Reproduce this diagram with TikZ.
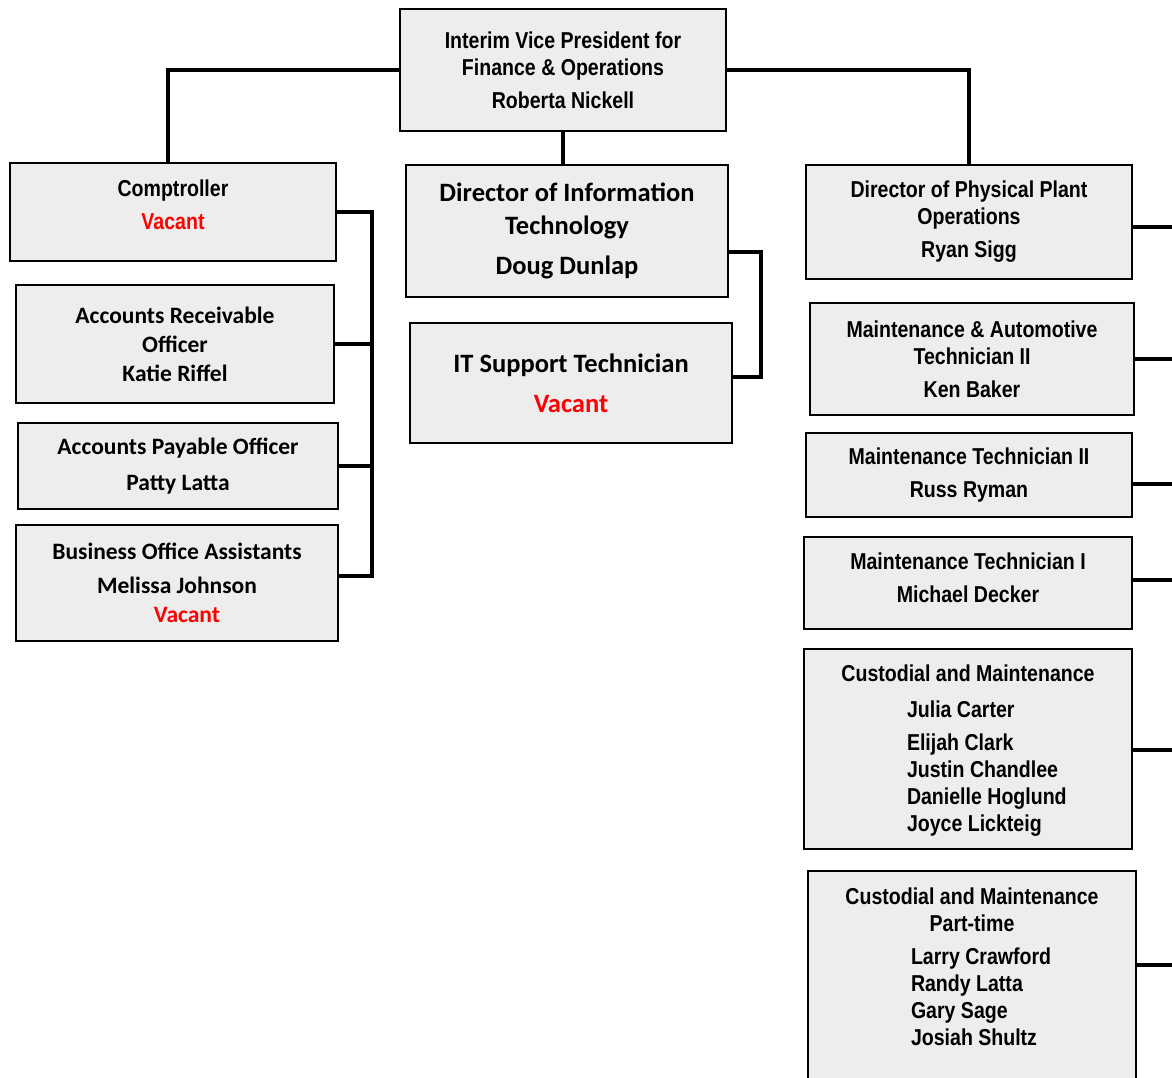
\documentclass[tikz,border=0pt]{standalone}
\usepackage{fontspec}
\usepackage{xcolor}
\newfontfamily\narrowfont[FakeStretch=0.85]{Liberation Sans}
\newfontfamily\calfont{Carlito}
\usetikzlibrary{positioning}
\definecolor{boxgray}{HTML}{EDEDED}
\definecolor{vacred}{HTML}{FF0000}
\newcommand{\vac}{\textcolor{vacred}{Vacant}}

\begin{document}
\begin{tikzpicture}[x=1pt, y=-1pt,
		block/.style={draw=black, line width=2pt, fill=boxgray, align=center, inner sep=0pt, font=\narrowfont\bfseries\fontsize{23}{27}\selectfont},
		calblock/.style={block, font=\calfont\bfseries\fontsize{23.5}{29}\selectfont},
		link/.style={line width=3.2pt}
		]
		\useasboundingbox (0,0) rectangle (1172,1078);
		\clip (0,0) rectangle (1172,1078);
		% top
		\node[block, minimum width=326pt, minimum height=122pt] (vp) at (563,70) {Interim Vice President for\\Finance \& Operations\\[6pt]Roberta Nickell};
		% finance side
		\node[block, minimum width=326pt, minimum height=98pt] (comp) at (173,212) {Comptroller\\[6pt]\vac\\[-12pt]};
		\node[calblock, minimum width=318pt, minimum height=118pt] (ar) at (175,344) {Accounts Receivable\\Officer\\Katie Riffel};
		\node[calblock, minimum width=320pt, minimum height=86pt] (ap) at (178,466) {Accounts Payable Officer\\[7pt]Patty Latta};
		\node[calblock, minimum width=322pt, minimum height=116pt] (boa) at (177,583) {Business Office Assistants\\[5pt]Melissa Johnson\\\hspace*{20pt}\vac};
		% IT
		\node[calblock, minimum width=322pt, minimum height=132pt, font=\calfont\bfseries\fontsize{26.5}{33}\selectfont] (itdir) at (567,231) {Director of Information\\Technology\\[7pt]Doug Dunlap};
		\node[calblock, minimum width=322pt, minimum height=120pt, font=\calfont\bfseries\fontsize{26.5}{40}\selectfont] (itsup) at (571,383) {IT Support Technician\\\vac};
		% physical plant
		\node[block, minimum width=326pt, minimum height=114pt] (ppdir) at (969,222) {Director of Physical Plant\\Operations\\[6pt]Ryan Sigg};
		\node[block, minimum width=324pt, minimum height=112pt] (mat) at (972,359) {Maintenance \& Automotive\\Technician II\\[6pt]Ken Baker};
		\node[block, minimum width=326pt, minimum height=84pt] (mt2) at (969,475) {Maintenance Technician II\\[6pt]Russ Ryman};
		\node[block, minimum width=328pt, minimum height=92pt] (mt1) at (968,583) {Maintenance Technician I\\[6pt]Michael Decker\\[-17pt]};
		\node[block, minimum width=328pt, minimum height=200pt] (cust) at (968,749) {Custodial and Maintenance\\[9pt]\makebox[0pt][l]{\hspace*{-61pt}\begin{tabular}[t]{@{}l@{}}Julia Carter\\[6pt]Elijah Clark\\Justin Chandlee\\Danielle Hoglund\\Joyce Lickteig\end{tabular}}\\[-8pt]};
		\node[block, minimum width=328pt, minimum height=218pt] (custpt) at (972,980) {Custodial and Maintenance\\Part-time\\[6pt]\makebox[0pt][l]{\hspace*{-61pt}\begin{tabular}[t]{@{}l@{}}Larry Crawford\\Randy Latta\\Gary Sage\\Josiah Shultz\end{tabular}}\\[18pt]};
		% connectors
		\coordinate (lbus) at (372,0);
		\draw[link] (vp.west) -| ([xshift=-5pt]comp.north);
		\draw[link] (vp.east) -| (ppdir.north);
		\draw[link] (vp.south) -- (vp.south |- itdir.north);
		\draw[link] (comp.east) -- (comp.east -| lbus) -- ([yshift=7pt]boa.east -| lbus) -- ([yshift=7pt]boa.east);
		\draw[link] (ar.east) -- (ar.east -| lbus);
		\draw[link] (ap.east) -- (ap.east -| lbus);
		\draw[link] ([yshift=-21pt]itdir.east) -- ++(32,0) |- ([yshift=6pt]itsup.east);
		\foreach \n/\dy in {ppdir/-5, mat/0, mt2/-9, mt1/3, cust/-1, custpt/15}
			\draw[link] ([yshift=\dy pt]\n.east) -- ++(60,0);
\end{tikzpicture}
\end{document}
